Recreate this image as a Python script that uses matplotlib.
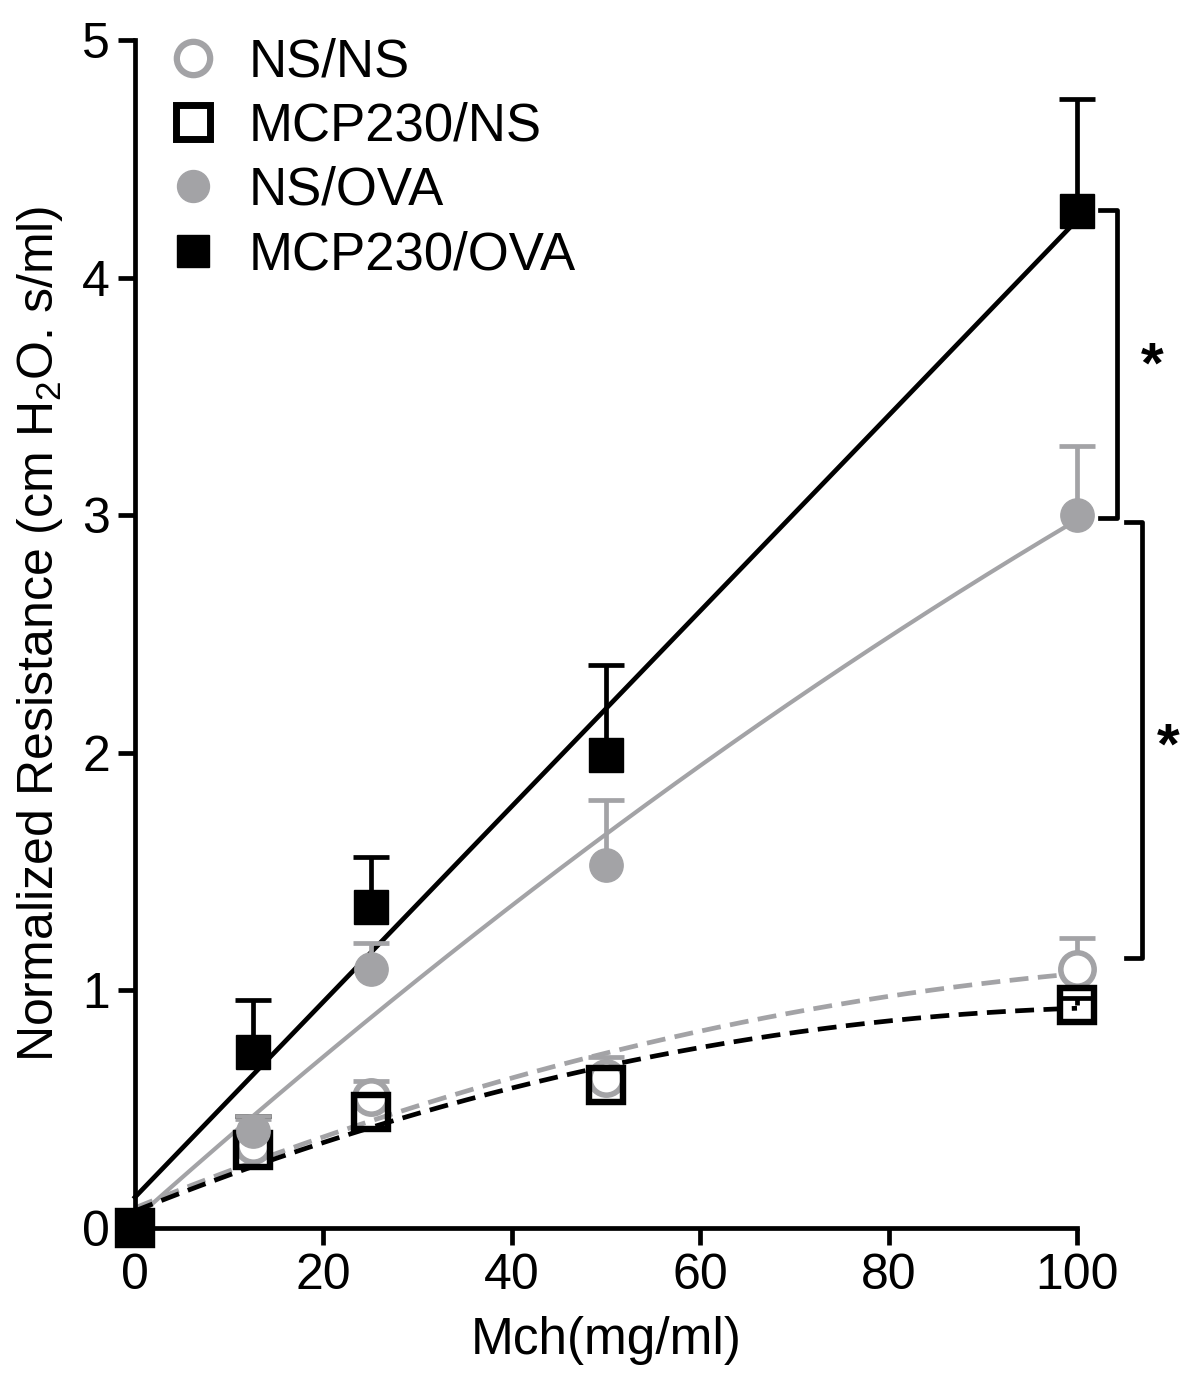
import numpy as np
import matplotlib.pyplot as plt
from matplotlib.lines import Line2D

plt.rcParams['font.family'] = ['Liberation Sans', 'DejaVu Sans']

dose = [0, 12.5, 25, 50, 100]

ns_ns = [0, 0.35, 0.55, 0.63, 1.09]
ns_ns_top = [0, 0.46, 0.62, 0.72, 1.22]
mcp_ns = [0, 0.33, 0.49, 0.60, 0.94]
mcp_ns_top = [0, 0.47, 0.52, 0.64, 0.97]
ns_ova = [0, 0.41, 1.09, 1.53, 3.00]
ns_ova_top = [0, 0.47, 1.20, 1.80, 3.29]
mcp_ova = [0, 0.74, 1.35, 1.99, 4.28]
mcp_ova_top = [0, 0.96, 1.56, 2.37, 4.75]

grey = '#a3a3a6'

fig = plt.figure(figsize=(12, 13.99), dpi=100)
ax = fig.add_axes([0.1125, 0.1222, 0.785, 0.8492])

x = np.array(dose)
xx = np.linspace(0, 100, 200)

# fitted curves
fit_mcp_ova = np.polyfit(x, mcp_ova, 1)
fit_ns_ova = np.polyfit(x, ns_ova, 2)
fit_ns_ns = np.polyfit(x, ns_ns, 2)
fit_mcp_ns = np.polyfit(x, mcp_ns, 2)

ax.plot(xx, np.polyval(fit_mcp_ova, xx), color='black', lw=3.4, zorder=2, clip_on=False)
ax.plot(xx, np.polyval(fit_ns_ova, xx), color=grey, lw=3, zorder=2, clip_on=False)
ax.plot(xx, np.polyval(fit_ns_ns, xx), color=grey, lw=3.4, ls=(0, (4, 2)), zorder=2, clip_on=False)
ax.plot(xx, np.polyval(fit_mcp_ns, xx), color='black', lw=3.4, ls=(0, (4, 2)), zorder=2, clip_on=False)


def series(y, top, color, marker, fc, mec, mew, ms, label):
    y = np.array(y)
    err = np.array(top) - y
    _, caps, _ = ax.errorbar(x[1:], y[1:], yerr=[np.zeros(4), err[1:]], fmt='none',
                             ecolor=color, elinewidth=3.4, capsize=13, capthick=3.4,
                             zorder=3, clip_on=False)
    caps[0].set_visible(False)
    ax.plot(x, y, ls='none', marker=marker, ms=ms, mfc=fc, mec=mec, mew=mew,
            zorder=4, clip_on=False, label=label)


series(ns_ns, ns_ns_top, grey, 'o', 'white', grey, 4, 24, 'NS/NS')
series(mcp_ns, mcp_ns_top, 'black', 's', 'none', 'black', 4.6, 25, 'MCP230/NS')
series(ns_ova, ns_ova_top, grey, 'o', grey, grey, 1, 24, 'NS/OVA')
series(mcp_ova, mcp_ova_top, 'black', 's', 'black', 'black', 1, 24, 'MCP230/OVA')

# significance brackets
def bracket(xl, xr, y0, y1, xs, ys):
    ax.plot([xl, xr, xr, xl], [y0, y0, y1, y1], color='black', lw=3.4, clip_on=False)
    ax.text(xs, ys, '*', fontsize=42, fontweight='bold', ha='center', va='center',
            clip_on=False)

bracket(102.4, 104.2, 4.285, 2.99, 108.0, 3.62)
bracket(105.2, 106.9, 2.97, 1.135, 109.7, 2.02)

ax.set_xlim(0, 100)
ax.set_ylim(0, 5)
ax.set_xticks([0, 20, 40, 60, 80, 100])
ax.set_yticks([0, 1, 2, 3, 4, 5])
for s in ['top', 'right']:
    ax.spines[s].set_visible(False)
for s in ['left', 'bottom']:
    ax.spines[s].set_linewidth(3.4)
ax.tick_params(length=12, width=3.4, labelsize=36, pad=6)

ax.set_xlabel('Mch(mg/ml)', fontsize=37, labelpad=12)
ax.set_ylabel('Normalized Resistance (cm H$_\\mathregular{2}$O. s/ml)', fontsize=36, labelpad=12)

handles = [
    Line2D([], [], ls='none', marker='o', ms=24, mfc='white', mec=grey, mew=4.5),
    Line2D([], [], ls='none', marker='s', ms=24, mfc='white', mec='black', mew=5),
    Line2D([], [], ls='none', marker='o', ms=23, mfc=grey, mec=grey),
    Line2D([], [], ls='none', marker='s', ms=23, mfc='black', mec='black'),
]
ax.legend(handles, ['NS/NS', 'MCP230/NS', 'NS/OVA', 'MCP230/OVA'], loc='upper left',
          bbox_to_anchor=(0.0, 1.02), frameon=False, fontsize=38,
          handlelength=1.4, handletextpad=0.35, labelspacing=0.27, borderaxespad=0)

fig.savefig('out.png', dpi=100)
